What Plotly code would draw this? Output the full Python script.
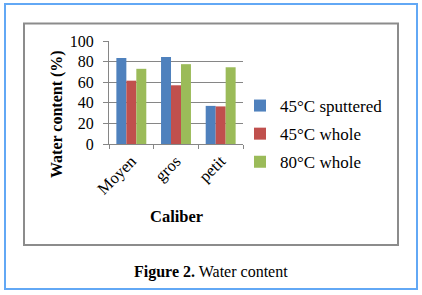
import plotly.graph_objects as go

categories = ["Moyen", "gros", "petit"]
series_names = ["45°C sputtered", "45°C whole", "80°C whole"]
sputtered_45 = [83.5, 84.5, 37.0]
whole_45 = [61.5, 57.0, 36.5]
whole_80 = [73.0, 77.5, 74.5]
y_ticks = [0, 20, 40, 60, 80, 100]
colors = ["#4F81BD", "#C0504D", "#9BBB59"]

W, H = 422, 295
L, R, T, B = 109, 243, 41, 144  # plot area in pixels
FONT = "Liberation Serif, Times New Roman, serif"


def px(x):
    return (x - L) / (R - L)


def py(y):
    return (B - y) / (B - T)


fig = go.Figure()
for i, (name, vals) in enumerate(zip(series_names, [sputtered_45, whole_45, whole_80])):
    fig.add_trace(go.Bar(x=categories, y=vals, name=name, marker_color=colors[i],
                         marker_line_width=0, legendgroup=f"g{i}"))

fig.update_layout(
    width=W, height=H,
    margin=dict(l=L, r=W - R, t=T, b=H - B, pad=0),
    paper_bgcolor="white", plot_bgcolor="white",
    barmode="group", bargap=0.33, bargroupgap=0,
    font=dict(family=FONT, size=16, color="black"),
    showlegend=True,
    legend=dict(x=px(240), xanchor="left", y=py(134), yanchor="middle",
                font=dict(family=FONT, size=17, color="black"),
                tracegroupgap=3, bgcolor="rgba(0,0,0,0)", borderwidth=0),
    xaxis=dict(tickson="boundaries", ticks="outside", ticklen=4, tickcolor="#868686",
               showline=True, linecolor="#868686", linewidth=1, tickangle=-45,
               tickfont=dict(family=FONT, size=16.5, color="black"), showgrid=False,
               fixedrange=True),
    yaxis=dict(range=[0, 100], tickvals=y_ticks, ticks="outside", ticklen=5,
               tickcolor="#868686", showline=True, linecolor="#868686", linewidth=1,
               showgrid=True, gridcolor="#868686", gridwidth=1, zeroline=False,
               tickfont=dict(family=FONT, size=16, color="black"),
               ticklabelstandoff=6, fixedrange=True),
    shapes=[
        dict(type="rect", xref="paper", yref="paper", x0=px(5), x1=px(417), y0=py(289), y1=py(4),
             line=dict(color="#62A8F5", width=2), fillcolor="rgba(0,0,0,0)", layer="below"),
        dict(type="rect", xref="paper", yref="paper", x0=px(24), x1=px(398), y0=py(245), y1=py(23.5),
             line=dict(color="#8C8C8C", width=2), fillcolor="rgba(0,0,0,0)", layer="below"),
    ],
    annotations=[
        dict(text="<b>Water content (%)</b>", xref="paper", yref="paper", x=px(57), y=py(114),
             textangle=-90, showarrow=False, xanchor="center", yanchor="middle",
             font=dict(family=FONT, size=16, color="black")),
        dict(text="<b>Caliber</b>", xref="paper", yref="paper", x=px(176), y=py(216),
             showarrow=False, xanchor="center", yanchor="middle",
             font=dict(family=FONT, size=16.5, color="black")),
        dict(text="<b>Figure 2.</b> Water content", xref="paper", yref="paper", x=px(211), y=py(272),
             showarrow=False, xanchor="center", yanchor="middle",
             font=dict(family=FONT, size=16, color="black")),
    ],
)

fig.write_html("out.html", config={"displayModeBar": False},
               post_script="document.body.style.margin='0';document.body.style.overflow='hidden';")
